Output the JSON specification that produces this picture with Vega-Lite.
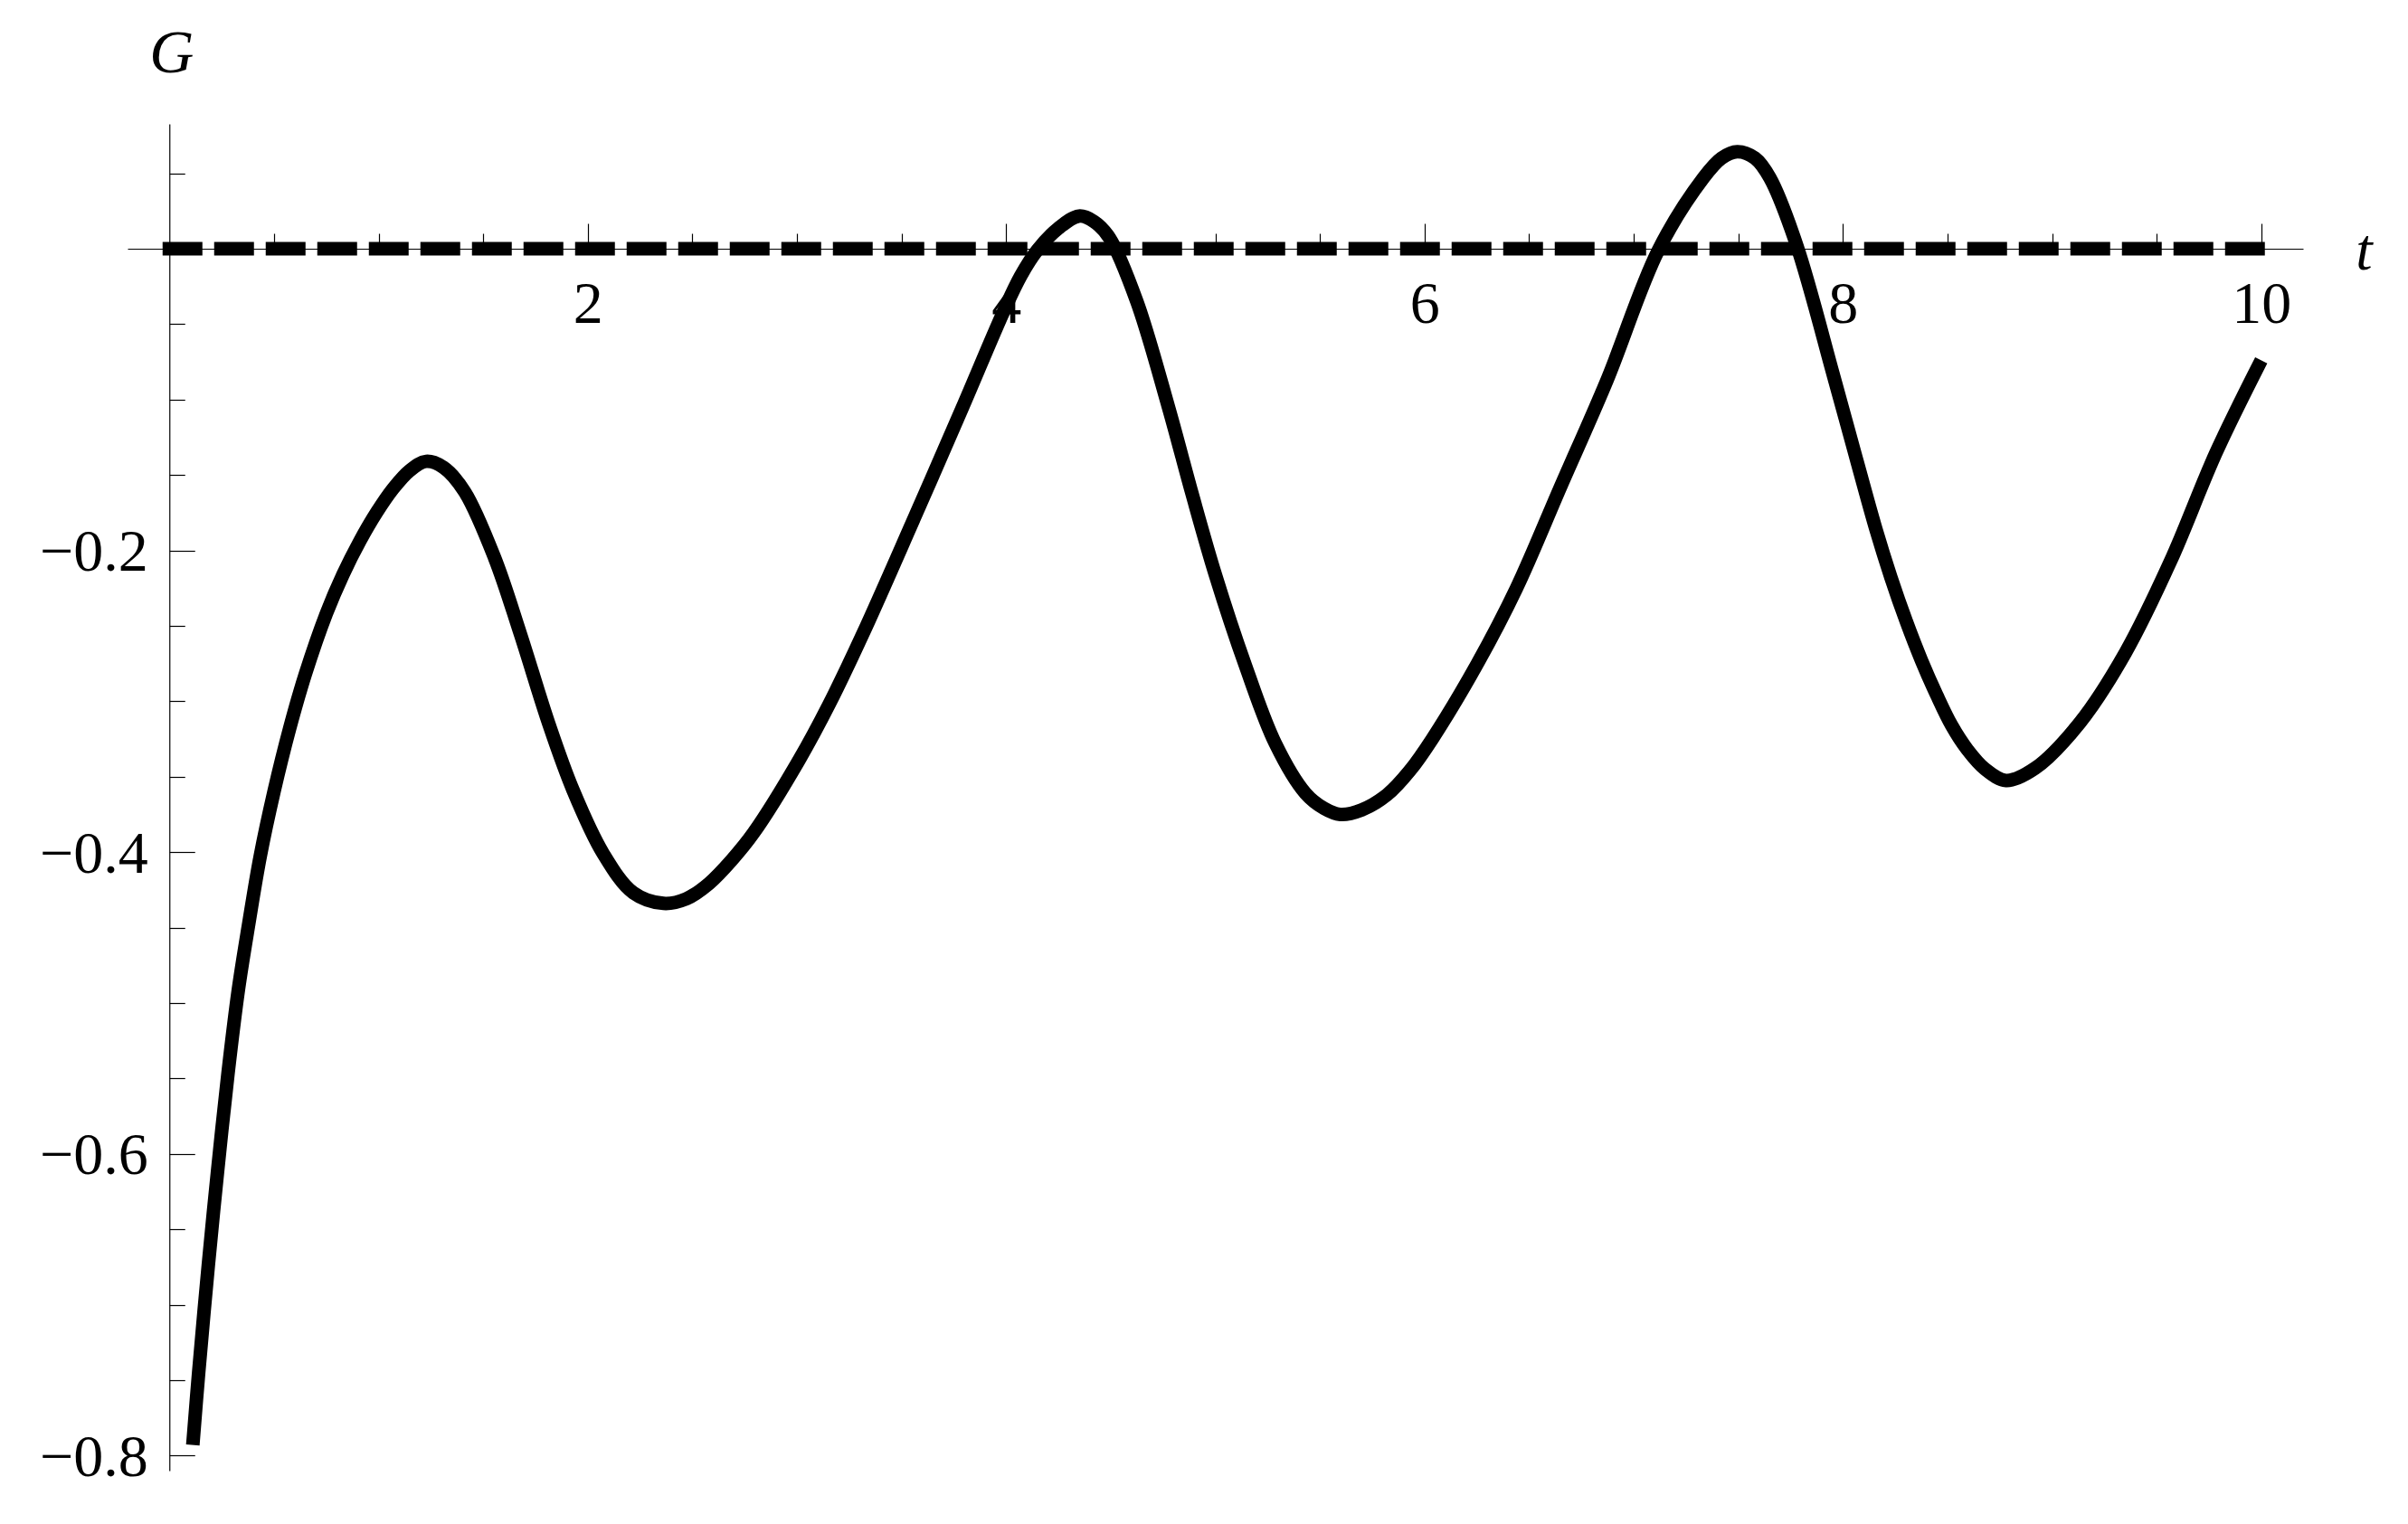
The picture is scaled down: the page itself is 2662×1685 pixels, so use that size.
{
  "$schema": "https://vega.github.io/schema/vega-lite/v6.json",
  "autosize": {"type": "none"},
  "padding": {"left": 141, "top": 137, "right": 116, "bottom": 59},
  "width": 2405,
  "height": 1489,
  "background": "white",
  "config": {
    "view": {"stroke": null},
    "axis": {
      "grid": false,
      "domainColor": "black",
      "domainWidth": 1.2,
      "tickColor": "black",
      "tickWidth": 1.2,
      "labelColor": "black",
      "labelFont": "Liberation Serif",
      "labelFontSize": 66,
      "labelOverlap": false,
      "labelFlush": false,
      "labelBound": false,
      "titleFont": "Liberation Serif",
      "titleFontStyle": "italic",
      "titleFontWeight": "normal",
      "titleColor": "black"
    }
  },
  "datasets": {
    "curve": [
      {"t": 0.112, "G": -0.793}, {"t": 0.14, "G": -0.745}, {"t": 0.186, "G": -0.674},
      {"t": 0.23, "G": -0.612}, {"t": 0.28, "G": -0.547}, {"t": 0.33, "G": -0.491},
      {"t": 0.38, "G": -0.447}, {"t": 0.434, "G": -0.403}, {"t": 0.5, "G": -0.36},
      {"t": 0.575, "G": -0.318}, {"t": 0.65, "G": -0.282}, {"t": 0.75, "G": -0.242},
      {"t": 0.83, "G": -0.216}, {"t": 0.91, "G": -0.194}, {"t": 0.99, "G": -0.175},
      {"t": 1.07, "G": -0.159}, {"t": 1.15, "G": -0.147}, {"t": 1.227, "G": -0.141},
      {"t": 1.31, "G": -0.145}, {"t": 1.411, "G": -0.161},
      {"t": 1.555, "G": -0.205}, {"t": 1.677, "G": -0.255}, {"t": 1.814, "G": -0.315},
      {"t": 1.93, "G": -0.359}, {"t": 2.074, "G": -0.401}, {"t": 2.218, "G": -0.427},
      {"t": 2.362, "G": -0.434}, {"t": 2.47, "G": -0.431}, {"t": 2.578, "G": -0.421},
      {"t": 2.69, "G": -0.405}, {"t": 2.794, "G": -0.387}, {"t": 3.01, "G": -0.339},
      {"t": 3.154, "G": -0.302}, {"t": 3.313, "G": -0.256}, {"t": 3.55, "G": -0.182},
      {"t": 3.789, "G": -0.106}, {"t": 3.99, "G": -0.041}, {"t": 4.07, "G": -0.018},
      {"t": 4.149, "G": -0.001}, {"t": 4.25, "G": 0.0135}, {"t": 4.348, "G": 0.0216},
      {"t": 4.42, "G": 0.018},
      {"t": 4.495, "G": 0.007}, {"t": 4.625, "G": -0.035}, {"t": 4.776, "G": -0.105},
      {"t": 4.89, "G": -0.163}, {"t": 5.0, "G": -0.216}, {"t": 5.143, "G": -0.276},
      {"t": 5.287, "G": -0.328}, {"t": 5.431, "G": -0.361}, {"t": 5.52, "G": -0.371},
      {"t": 5.597, "G": -0.375},
      {"t": 5.7, "G": -0.372}, {"t": 5.821, "G": -0.362}, {"t": 5.93, "G": -0.346},
      {"t": 6.037, "G": -0.325}, {"t": 6.253, "G": -0.275}, {"t": 6.44, "G": -0.225},
      {"t": 6.65, "G": -0.158}, {"t": 6.873, "G": -0.087}, {"t": 7.118, "G": -0.001},
      {"t": 7.334, "G": 0.047}, {"t": 7.42, "G": 0.06}, {"t": 7.495, "G": 0.0643},
      {"t": 7.58, "G": 0.06}, {"t": 7.651, "G": 0.047}, {"t": 7.78, "G": 0.002},
      {"t": 7.957, "G": -0.085}, {"t": 8.05, "G": -0.132}, {"t": 8.158, "G": -0.186},
      {"t": 8.23, "G": -0.218}, {"t": 8.303, "G": -0.247}, {"t": 8.376, "G": -0.273},
      {"t": 8.449, "G": -0.296}, {"t": 8.52, "G": -0.316}, {"t": 8.595, "G": -0.332},
      {"t": 8.68, "G": -0.345}, {"t": 8.78, "G": -0.3525}, {"t": 8.918, "G": -0.3445},
      {"t": 9.134, "G": -0.314}, {"t": 9.35, "G": -0.268}, {"t": 9.567, "G": -0.207},
      {"t": 9.783, "G": -0.1355}, {"t": 10.0, "G": -0.074}
    ],
    "zero": [{"t0": 0, "t1": 10, "g": 0}]
  },
  "resolve": {"axis": {"x": "independent", "y": "independent"}},
  "layer": [
    {
      "data": {"name": "zero"},
      "mark": {"type": "rule", "color": "black", "strokeWidth": 15, "strokeDash": [29, 28], "strokeCap": "square"},
      "encoding": {
        "x": {
          "field": "t0", "type": "quantitative",
          "scale": {"domain": [-0.2, 10.2], "nice": false, "zero": false},
          "axis": {
            "orient": "bottom", "offset": -1351, "values": [2, 4, 6, 8, 10],
            "domain": false, "tickSize": -28, "labelPadding": 109, "labelBaseline": "alphabetic",
            "format": "d", "labelAlign": "center",
            "title": "t", "titleFontSize": 66, "titleX": 2472, "titleY": 22,
            "titleAlign": "center", "titleBaseline": "alphabetic", "titleAngle": 0
          }
        },
        "x2": {"field": "t1"},
        "y": {
          "field": "g", "type": "quantitative",
          "scale": {"domain": [-0.81, 0.0827], "nice": false, "zero": false},
          "axis": {
            "orient": "left", "offset": -46.25, "values": [-0.2, -0.4, -0.6, -0.8],
            "domain": false, "tickSize": -28, "labelPadding": 52, "labelBaseline": "middle",
            "labelOffset": 2, "format": ".1f", "labelAlign": "right",
            "title": "G", "titleFontSize": 68, "titleX": 2, "titleY": -58,
            "titleAlign": "center", "titleBaseline": "alphabetic", "titleAngle": 0
          }
        }
      }
    },
    {
      "data": {"name": "curve"},
      "mark": {"type": "line", "color": "black", "strokeWidth": 15, "interpolate": "catmull-rom"},
      "encoding": {
        "x": {
          "field": "t", "type": "quantitative",
          "axis": {
            "orient": "bottom", "offset": -1351,
            "values": [0.5, 1, 1.5, 2.5, 3, 3.5, 4.5, 5, 5.5, 6.5, 7, 7.5, 8.5, 9, 9.5],
            "domain": true, "tickSize": -17, "labels": false, "title": null
          }
        },
        "y": {
          "field": "G", "type": "quantitative",
          "axis": {
            "orient": "left", "offset": -46.25,
            "values": [0.05, -0.05, -0.1, -0.15, -0.25, -0.3, -0.35, -0.45, -0.5, -0.55, -0.65, -0.7, -0.75],
            "domain": true, "tickSize": -17, "labels": false, "title": null
          }
        }
      }
    }
  ]
}
